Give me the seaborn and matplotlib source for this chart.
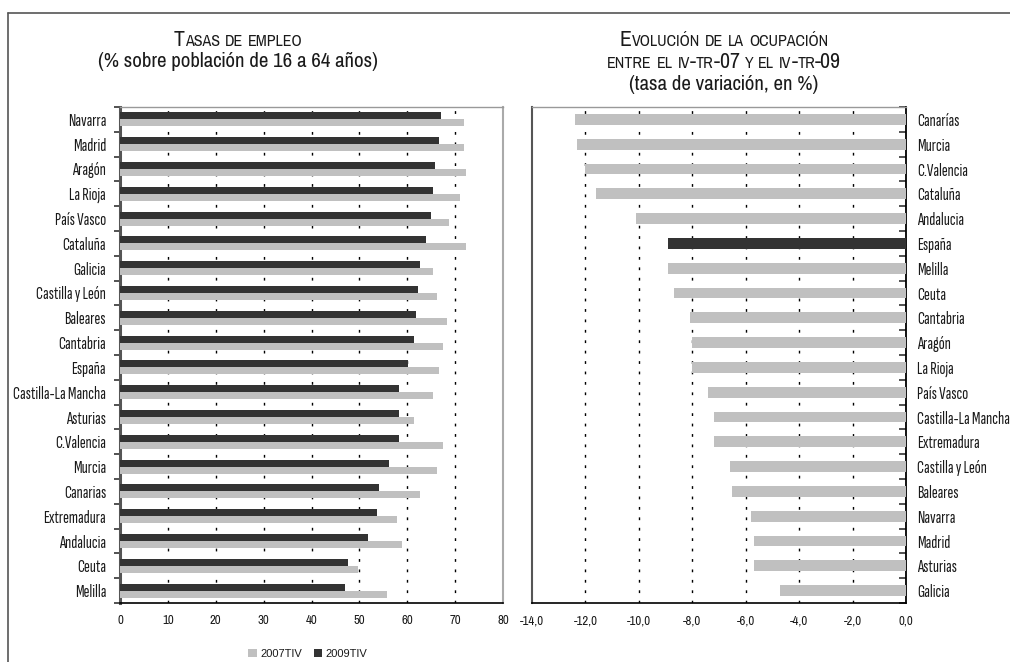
import numpy as np
import pandas as pd
import matplotlib
matplotlib.use("Agg")
import matplotlib.pyplot as plt
import seaborn as sns
from matplotlib import font_manager as fm
from matplotlib.font_manager import FontProperties
from matplotlib.textpath import TextPath
from matplotlib.transforms import IdentityTransform
from matplotlib.lines import Line2D
from matplotlib.patches import Patch
from matplotlib.ticker import FixedLocator, FuncFormatter

# ---------------- data ----------------
regions_left = ["Navarra", "Madrid", "Aragón", "La Rioja", "País Vasco", "Cataluña",
                "Galicia", "Castilla y León", "Baleares", "Cantabria", "España",
                "Castilla-La Mancha", "Asturias", "C.Valencia", "Murcia", "Canarias",
                "Extremadura", "Andalucia", "Ceuta", "Melilla"]
emp_2009 = [67.1, 66.7, 65.8, 65.4, 65.0, 64.0, 62.7, 62.3, 61.9, 61.5, 60.2,
            58.3, 58.3, 58.3, 56.2, 54.2, 53.7, 51.9, 47.7, 47.1]
emp_2007 = [71.9, 71.9, 72.3, 71.0, 68.7, 72.3, 65.4, 66.2, 68.3, 67.5, 66.7,
            65.4, 61.5, 67.5, 66.2, 62.7, 57.9, 59.0, 49.8, 55.8]
series_names = ["2007TIV", "2009TIV"]

regions_right = ["Canarías", "Murcia", "C.Valencia", "Cataluña", "Andalucia", "España",
                 "Melilla", "Ceuta", "Cantabria", "Aragón", "La Rioja", "País Vasco",
                 "Castilla-La Mancha", "Extremadura", "Castilla y León", "Baleares",
                 "Navarra", "Madrid", "Asturias", "Galicia"]
var_ocup = [-12.4, -12.3, -12.0, -11.6, -10.1, -8.9, -8.9, -8.7, -8.1, -8.0, -8.0,
            -7.4, -7.2, -7.2, -6.6, -6.5, -5.8, -5.7, -5.7, -4.7]

left_ticks = [0, 10, 20, 30, 40, 50, 60, 70, 80]
right_ticks = [-14, -12, -10, -8, -6, -4, -2, 0]

# ---------------- fonts ----------------
LIGHT = "#c0c0c0"
DARK = "#333333"
TXT = "#1a1a1a"

entries = [f for f in fm.fontManager.ttflist if f.style == "normal"]

def find(name, weights=(400, 300)):
    for wgt in weights:
        c = [f for f in entries if f.name == name and f.weight == wgt]
        if c:
            return c[0].fname
    return None

cands = ["Liberation Sans Narrow", "Arial Narrow", "Barlow Condensed",
         "Sofia Sans Extra Condensed", "Sofia Sans Condensed", "Fira Sans Extra Condensed",
         "Encode Sans Condensed", "Saira Condensed", "Archivo Narrow", "Roboto Condensed",
         "PT Sans Narrow", "Fira Sans Condensed", "IBM Plex Sans Condensed",
         "Asap Condensed", "Pragati Narrow", "Open Sans Condensed",
         "Barlow Semi Condensed", "Liberation Sans", "Roboto"]
cand_files = [(nm, find(nm)) for nm in cands]
cand_files = [(nm, fn) for nm, fn in cand_files if fn]

def pick_font(sample, target_w, target_cap):
    best = None
    goal = target_w / target_cap
    for nm, fn in cand_files:
        try:
            p = FontProperties(fname=fn, size=100)
            wd = TextPath((0, 0), sample, prop=p).get_extents().width
            hc = TextPath((0, 0), "H", prop=p).get_extents().height
        except Exception:
            continue
        score = abs(wd / hc - goal)
        if best is None or score < best[0] - 1e-9:
            best = (score, fn, hc)
    if best is None:
        return None, 72.0
    return best[1], best[2]

lbl_file, _ = pick_font("Castilla-La Mancha", 93, 12)
ttl_file, ttl_hc100 = pick_font("(% sobre población de 16 a 64 años)", 280, 14.5)
tck_file, _ = pick_font("-14,0", 24, 9)
arial_file = find("Liberation Sans") or find("Arimo") or find("DejaVu Sans")

def FP(fn, size):
    if fn:
        return FontProperties(fname=fn, size=size)
    return FontProperties(family="DejaVu Sans", size=size)

sns.set_theme(style="white")
plt.rcParams["font.family"] = ["DejaVu Sans"]

W, H = 1010, 662
fig = plt.figure(figsize=(W / 100, H / 100), dpi=100)
renderer = fig.canvas.get_renderer()

def calibrate(text, target_px, fn):
    t = fig.text(0, 0, text, fontproperties=FP(fn, 10))
    w = t.get_window_extent(renderer).width
    t.remove()
    return 10 * target_px / w

LBL = calibrate("Castilla-La Mancha", 93, lbl_file)
TTL = calibrate("(% sobre población de 16 a 64 años)", 280, ttl_file)
TCK = calibrate("-14,0", 24, tck_file)

def px_axes(x0, y0, x1, y1):
    return fig.add_axes([x0 / W, 1 - y1 / H, (x1 - x0) / W, (y1 - y0) / H])

axL = px_axes(120, 107, 503, 603)
axR = px_axes(532, 107, 906, 603)

# ---------------- left chart ----------------
dfL = pd.DataFrame({
    "region": regions_left * 2,
    "valor": emp_2009 + emp_2007,
    "serie": [series_names[1]] * len(regions_left) + [series_names[0]] * len(regions_left),
})
sns.barplot(data=dfL, y="region", x="valor", hue="serie", order=regions_left,
            hue_order=[series_names[1], series_names[0]],
            palette={series_names[0]: LIGHT, series_names[1]: DARK},
            width=0.57, linewidth=0, saturation=1, orient="h", ax=axL, legend=False,
            zorder=3)

# ---------------- right chart ----------------
dfR = pd.DataFrame({"region": regions_right, "valor": var_ocup})
palR = {r: (DARK if r == "España" else LIGHT) for r in regions_right}
sns.barplot(data=dfR, y="region", x="valor", hue="region", order=regions_right,
            palette=palR, width=0.43, linewidth=0, saturation=1, orient="h",
            ax=axR, legend=False, zorder=3)

dot_ls = (0, (2.0, 5.5))
for ax, ticks, lim, n in [(axL, left_ticks, (0, 80), len(regions_left)),
                          (axR, right_ticks, (-14, 0), len(regions_right))]:
    ax.set_xlim(*lim)
    ax.set_ylim(n - 0.5, -0.5)
    ax.set_xlabel("")
    ax.set_ylabel("")
    ax.set_xticks(ticks)
    for t in ticks[1:-1]:
        ax.axvline(t, color="black", lw=1.0, ls=dot_ls, zorder=1)
    ax.yaxis.set_minor_locator(FixedLocator(np.arange(-0.5, n, 1.0)))
    ax.tick_params(axis="y", which="major", length=0, labelcolor=TXT)
    ax.tick_params(axis="x", which="major", length=4, width=1, color="black",
                   direction="out", pad=5, labelcolor=TXT)
    for s in ax.spines.values():
        s.set_visible(True)
    ax.set_facecolor("white")

axR.xaxis.set_major_formatter(FuncFormatter(lambda v, p: f"{v:.1f}".replace(".", ",")))

# left axis spines
axL.spines["left"].set_color("#555555"); axL.spines["left"].set_linewidth(2.2)
axL.spines["bottom"].set_color("black"); axL.spines["bottom"].set_linewidth(1.2)
axL.spines["top"].set_color("#999999"); axL.spines["top"].set_linewidth(1)
axL.spines["right"].set_color("#aaaaaa"); axL.spines["right"].set_linewidth(1.5)
axL.tick_params(axis="y", which="minor", length=4, width=1.2, color="#333333",
                direction="out", left=True)
axL.tick_params(axis="y", which="major", pad=10)

# right axis spines
axR.yaxis.tick_right()
axR.yaxis.set_label_position("right")
axR.spines["right"].set_color("black"); axR.spines["right"].set_linewidth(1.3)
axR.spines["bottom"].set_color("black"); axR.spines["bottom"].set_linewidth(1.2)
axR.spines["top"].set_color("#999999"); axR.spines["top"].set_linewidth(1)
axR.spines["left"].set_color("#555555"); axR.spines["left"].set_linewidth(1.5)
axR.tick_params(axis="y", which="minor", length=5, width=1.2, color="#333333",
                direction="in", right=True, left=False)
axR.tick_params(axis="y", which="major", pad=8, right=False, left=False)

for ax in (axL, axR):
    for lab in ax.get_yticklabels():
        lab.set_fontproperties(FP(lbl_file, LBL))
    for lab in ax.get_xticklabels():
        lab.set_fontproperties(FP(tck_file, TCK))

# ---------------- outer frame ----------------
fig.add_artist(Line2D([8 / W, 1.0], [1 - 13 / H, 1 - 13 / H], transform=fig.transFigure,
                      color="#555555", lw=1.2))
fig.add_artist(Line2D([8 / W, 8 / W], [0, 1 - 13 / H], transform=fig.transFigure,
                      color="#555555", lw=1.2))

# ---------------- titles (small caps emulation) ----------------
# sizes in points so that capital height is ~15 px (big) and ~11 px (small)
BIG = min(15.0 * 72 / ttl_hc100, TTL * 1.05)
SMALL = BIG * 11.0 / 15.0

def smallcaps(text, xc, y_base_px, big, small):
    runs = []
    for ch in text:
        size = small if ch.islower() else big
        c = ch.upper()
        if runs and runs[-1][1] == size:
            runs[-1][0] += c
        else:
            runs.append([c, size])
    arts = []
    total = 0
    for s, size in runs:
        t = fig.text(0, 0, s, fontproperties=FP(ttl_file, size), color=TXT,
                     va="baseline", ha="left", transform=IdentityTransform())
        w = t.get_window_extent(renderer).width
        arts.append((t, w))
        total += w
    x = xc - total / 2
    y = H - y_base_px
    for t, w in arts:
        t.set_position((x, y))
        x += w

def plain(text, xc, y_base_px, size):
    fig.text(xc / W, 1 - y_base_px / H, text, fontproperties=FP(ttl_file, size),
             color=TXT, ha="center", va="baseline")

smallcaps("Tasas de empleo", 238, 46, BIG, SMALL)
plain("(% sobre población de 16 a 64 años)", 238, 67, TTL)
smallcaps("Evolución de la ocupación", 724, 46, BIG, SMALL)
smallcaps("entre el iv-tr-07 y el iv-tr-09", 724, 68, BIG, SMALL)
plain("(tasa de variación, en %)", 724, 90, TTL)

# ---------------- legend ----------------
handles = [Patch(facecolor=LIGHT, edgecolor="none", label=series_names[0]),
           Patch(facecolor=DARK, edgecolor="none", label=series_names[1])]
leg = fig.legend(handles=handles, loc="center", bbox_to_anchor=(308 / W, 1 - 654 / H),
                 ncol=2, frameon=False, prop=FP(arial_file, 8),
                 handlelength=0.8, handleheight=0.8, handletextpad=0.3, columnspacing=1.0)
for t in leg.get_texts():
    t.set_color(TXT)

fig.savefig("out.png", dpi=100)
